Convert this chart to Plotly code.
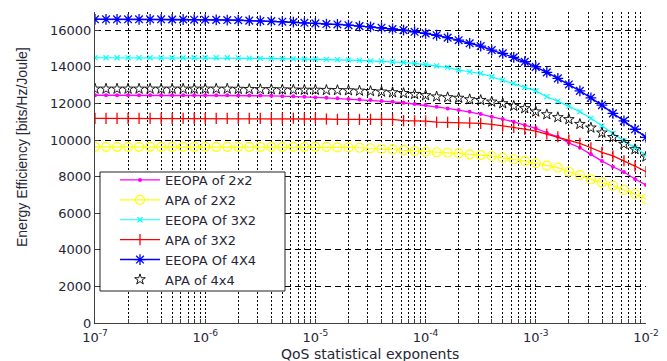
import numpy as np
import plotly.graph_objects as go

# QoS exponents: 10 points per decade from 1e-7 to 1e-2
qos = np.logspace(-7, -2, 51)

eeopa_2x2 = [12450]*12 + [12450, 12440, 12430, 12430, 12420, 12400, 12390, 12370, 12330, 12310,
             12280, 12240, 12220, 12190, 12130, 12090, 12040, 11970, 11910, 11820,
             11730, 11640, 11550, 11420, 11270, 11150, 11000, 10820, 10640, 10400,
             10180, 9850, 9580, 9220, 8850, 8540, 8250, 7870, 7540]
apa_2x2 = [9630]*22 + [9600, 9600, 9580, 9550, 9510, 9490, 9450, 9400, 9360, 9330,
           9310, 9270, 9220, 9180, 9130, 9030, 8950, 8850, 8730, 8600,
           8490, 8270, 8090, 7850, 7690, 7500, 7270, 7050, 6780]
eeopa_3x2 = [14500]*12 + [14500, 14490, 14480, 14470, 14460, 14450, 14440, 14430, 14420, 14410,
             14400, 14380, 14360, 14330, 14310, 14280, 14240, 14190, 14130, 14050,
             13970, 13830, 13730, 13640, 13460, 13280, 13100, 12880, 12690, 12370,
             12130, 11860, 11550, 11190, 10770, 10370, 9950, 9580, 9180]
apa_3x2 = [11190]*21 + [11150, 11130, 11130, 11130, 11130, 11130, 11130, 11060, 11050, 11040,
           10980, 10970, 10960, 10945, 10910, 10860, 10780, 10690, 10600, 10490,
           10330, 10180, 10000, 9820, 9580, 9330, 9130, 8870, 8580, 8270]
eeopa_4x4 = [16600, 16600, 16600, 16600, 16600, 16600, 16600, 16590, 16590, 16580, 16580, 16570,
             16560, 16550, 16530, 16510, 16500, 16470, 16450, 16410, 16380, 16340,
             16320, 16280, 16230, 16190, 16140, 16070, 16010, 15920, 15830, 15730,
             15600, 15460, 15290, 15140, 14920, 14740, 14520, 14280, 14000, 13700,
             13370, 13040, 12690, 12310, 11910, 11460, 11050, 10590, 10150]
apa_4x4 = [12800]*12 + [12800, 12790, 12780, 12770, 12770, 12760, 12750, 12740, 12740, 12730,
           12720, 12710, 12690, 12670, 12640, 12600, 12560, 12510, 12440, 12370,
           12330, 12300, 12220, 12180, 12090, 12000, 11860, 11730, 11550, 11400,
           11240, 11130, 10870, 10670, 10400, 10150, 9780, 9490, 9090]

y_ticks = [0, 2000, 4000, 6000, 8000, 10000, 12000, 14000, 16000]
x_major_exp = [-7, -6, -5, -4, -3, -2]

# x tick values: majors labelled, minors (2..9) unlabelled so they get grid lines
x_tickvals, x_ticktext = [], []
for e in x_major_exp:
    x_tickvals.append(10.0 ** e)
    x_ticktext.append("10<sup>%d</sup>" % e)
    if e < -2:
        for m in range(2, 10):
            x_tickvals.append(m * 10.0 ** e)
            x_ticktext.append("")

FONT = "DejaVu Sans, Liberation Sans, Arial"
TXT = "#262636"

# plot-area geometry in pixels (for paper-coordinate placement)
W, H = 667, 361
L, R, T, B = 95, 21, 12, 38
PW, PH = W - L - R, H - T - B
def px(x):
    return (x - L) / PW
def py(y):
    return (H - B - y) / PH

fig = go.Figure()

def add(name, y, color, symbol, size, mode="lines+markers", lw=1.2, mlw=1.2):
    fig.add_trace(go.Scatter(
        x=qos, y=y, name=name, mode=mode,
        line=dict(color=color, width=lw),
        marker=dict(symbol=symbol, size=size, color=color,
                    line=dict(color=color, width=mlw)),
    ))

add("EEOPA of 2x2", eeopa_2x2, "#ff00ff", "circle", 4, lw=1.3, mlw=0)
add("APA of 2X2", apa_2x2, "#ffff00", "circle-open", 9, lw=1.2, mlw=1.1)
add("EEOPA Of 3X2", eeopa_3x2, "#00ffff", "x-thin-open", 5, lw=1.2, mlw=1.1)
add("APA of 3X2", apa_3x2, "#ff0000", "line-ns-open", 8, lw=1.3, mlw=1.3)
add("EEOPA Of 4X4", eeopa_4x4, "#0000ff", "asterisk-open", 9, lw=1.4, mlw=1.3)
add("APA of 4x4", apa_4x4, "#000000", "star-open", 8, mode="markers", mlw=0.9)

fig.update_layout(
    width=W, height=H,
    margin=dict(l=L, r=R, t=T, b=B),
    paper_bgcolor="white", plot_bgcolor="white",
    font=dict(family=FONT, size=13, color=TXT),
    showlegend=True,
    legend=dict(
        x=px(115), y=py(165), xanchor="left", yanchor="top",
        bgcolor="rgba(0,0,0,0)", borderwidth=0,
        font=dict(family=FONT, size=13, color=TXT),
        tracegroupgap=0, itemwidth=40,
    ),
    shapes=[dict(
        type="rect", xref="paper", yref="paper",
        x0=px(100), x1=px(285), y0=py(291), y1=py(172),
        line=dict(color="#222222", width=1), fillcolor="white", layer="above",
    )],
    xaxis=dict(
        type="log", range=[-7, -2], automargin=False,
        tickmode="array", tickvals=x_tickvals, ticktext=x_ticktext,
        showgrid=True, gridcolor="#000000", gridwidth=1, griddash="2px,2px",
        showline=True, linecolor="#404040", linewidth=1.2,
        ticks="inside", ticklen=4, tickcolor="#404040",
        zeroline=False, ticklabelstandoff=2,
        tickfont=dict(family=FONT, size=13, color=TXT),
    ),
    yaxis=dict(
        range=[0, 17000], automargin=False,
        tickmode="array", tickvals=y_ticks, ticktext=[str(v) for v in y_ticks],
        showgrid=True, gridcolor="#000000", gridwidth=1, griddash="6px,4px",
        showline=True, linecolor="#404040", linewidth=1.2,
        ticks="inside", ticklen=4, tickcolor="#404040",
        zeroline=False,
        tickfont=dict(family=FONT, size=13, color=TXT),
    ),
    annotations=[
        dict(text="Energy Efficiency [bits/Hz/Joule]", textangle=-90,
             xref="paper", yref="paper", x=px(22), y=py(147),
             xanchor="center", yanchor="middle", showarrow=False,
             font=dict(family="Liberation Sans, Arial", size=14, color=TXT)),
        dict(text="QoS statistical exponents",
             xref="paper", yref="paper", x=px(370), y=py(354),
             xanchor="center", yanchor="middle", showarrow=False,
             font=dict(family=FONT, size=14, color=TXT)),
    ],
)

fig.write_html("out.html")
